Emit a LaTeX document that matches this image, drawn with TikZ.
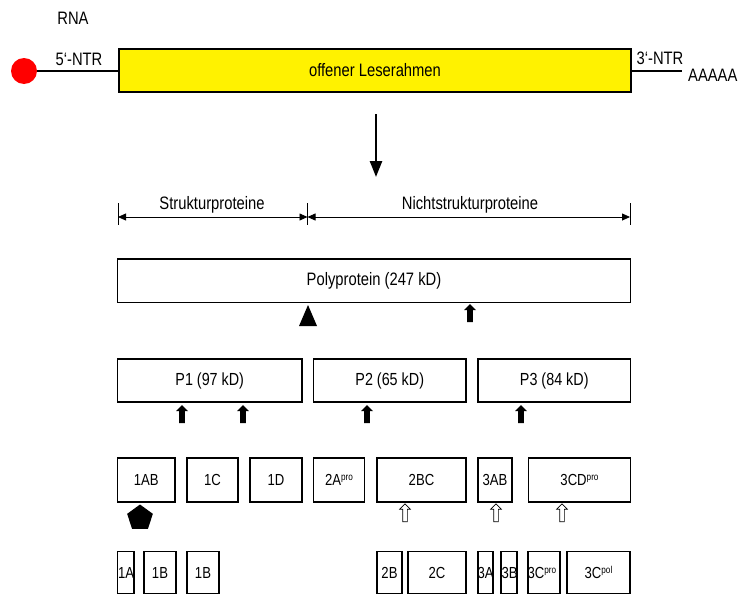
\documentclass[tikz,border=0pt]{standalone}
\usepackage{fontspec}
\setmainfont{Liberation Sans}[FakeStretch=0.82]
\usetikzlibrary{shapes.geometric,shapes.arrows,arrows.meta}
\tikzset{
  lab/.style={font=\fontsize{18}{20}\selectfont, inner sep=0pt},
  plab/.style={font=\fontsize{17.5}{20}\selectfont, inner sep=0pt},
  slab/.style={font=\fontsize{16}{18}\selectfont, inner sep=0pt},
  box/.style={draw, line width=1.3pt, inner sep=0pt, fill=white},
  fillarrow/.style={single arrow, fill=black, shape border rotate=90, inner sep=2.6pt,
    single arrow head extend=3.2pt, single arrow head indent=0pt, minimum height=18pt},
  openarrow/.style={single arrow, draw=black, fill=white, line width=0.7pt, shape border rotate=90, inner sep=2pt,
    single arrow head extend=3pt, single arrow head indent=0pt, minimum height=18pt},
  dimline/.style={line width=0.8pt, {Triangle[length=8pt,width=7pt]}-{Triangle[length=8pt,width=7pt]}},
}
\newcommand{\supx}[1]{\raisebox{5pt}{\fontsize{10}{10}\selectfont #1}}
\begin{document}
\begin{tikzpicture}[x=1pt,y=-1pt]
\useasboundingbox (0,0) rectangle (743,594);
% RNA
\node[lab] (rna) at (73,18) {RNA};
\node[circle, fill=red, minimum size=26pt, inner sep=0pt] (cap) at (24,71) {};
\node[draw, line width=1.3pt, fill=yellow, minimum width=512pt, minimum height=43pt, inner sep=0pt, lab] (orf) at (375,70.5) {offener Leserahmen};
\draw[line width=2.5pt] (cap.east) -- (cap.east -| orf.west);
\node[lab] (n5) at (79,59) {5‘-NTR};
\coordinate (tailend) at (682,71);
\draw[line width=2pt] (orf.east |- tailend) -- (tailend);
\node[lab] (n3) at (660,58) {3‘-NTR};
\node[lab, anchor=west] (polya) at (688,75) {AAAAA};
% processing arrow
\coordinate (dtop) at (376,114);
\coordinate (dbot) at (376,177);
\draw[line width=2.5pt, -{Triangle[length=16pt,width=12pt]}] (dtop) -- (dbot);
% dimension line
\coordinate (dl) at (118,217);
\coordinate (dm) at (307.5,217);
\coordinate (dr) at (630,217);
\draw[line width=0.6pt] (dl) ++(0,-14) -- ++(0,22);
\draw[line width=0.6pt] (dm) ++(0,-14) -- ++(0,22);
\draw[line width=0.6pt] (dr) ++(0,-14) -- ++(0,22);
\draw[dimline] (dl) -- (dm);
\draw[dimline] (dm) -- (dr);
\node[lab] (struk) at (212,205) {Strukturproteine};
\node[lab] (nstruk) at (470,205) {Nichtstrukturproteine};
% polyprotein
\node[box, lab, minimum width=513pt, minimum height=43.5pt] (poly) at (374,280.7) {Polyprotein (247 kD)};
\fill (299,326) -- (317,326) -- (308,305) -- cycle;
\node[fillarrow] (ap) at (470,314.5) {};
% P1 P2 P3
\node[box, plab, minimum width=184.5pt, minimum height=43pt] (p1) at (209.75,380.5) {P1 (97 kD)};
\node[box, plab, minimum width=152.5pt, minimum height=43pt] (p2) at (389.75,380.5) {P2 (65 kD)};
\node[box, plab, minimum width=152.5pt, minimum height=43pt] (p3) at (554.25,380.5) {P3 (84 kD)};
\node[fillarrow] (a1) at (182,415.5) {};
\node[fillarrow] (a2) at (243,415.5) {};
\node[fillarrow] (a3) at (367,415.5) {};
\node[fillarrow] (a4) at (521,415.5) {};
% row 3
\node[box, slab, minimum width=57.5pt, minimum height=44pt] (b1ab) at (146.25,480) {1AB};
\node[box, slab, minimum width=51pt, minimum height=44pt] (b1c) at (212.5,480) {1C};
\node[box, slab, minimum width=52pt, minimum height=44pt] (b1d) at (276,480) {1D};
\node[box, slab, minimum width=51pt, minimum height=44pt] (b2a) at (339,480) {2A\supx{pro}};
\node[box, slab, minimum width=89pt, minimum height=44pt] (b2bc) at (421.5,480) {2BC};
\node[box, slab, minimum width=34pt, minimum height=44pt] (b3ab) at (495,480) {3AB};
\node[box, slab, minimum width=102pt, minimum height=44pt] (b3cd) at (579.5,480) {3CD\supx{pro}};
\node[regular polygon, regular polygon sides=5, fill=black, minimum size=27pt, inner sep=0pt] (pent) at (140,518) {};
\node[openarrow] (o1) at (405,514) {};
\node[openarrow] (o2) at (496,514) {};
\node[openarrow] (o3) at (562,514) {};
% row 4
\node[box, minimum width=16.5pt, minimum height=42pt] (b1a) at (125.75,572.5) {};
\node[slab, anchor=west] (t1a) at ([xshift=1pt]b1a.west) {1A};
\node[box, slab, minimum width=32pt, minimum height=42pt] (b1b) at (160,572.5) {1B};
\node[box, slab, minimum width=32pt, minimum height=42pt] (b1bb) at (203,572.5) {1B};
\node[box, slab, minimum width=25pt, minimum height=42pt] (b2b) at (389.5,572.5) {2B};
\node[box, slab, minimum width=58pt, minimum height=42pt] (b2c) at (437,572.5) {2C};
\node[box, minimum width=15pt, minimum height=42pt] (b3a) at (485.5,572.5) {};
\node[slab, anchor=west] (t3a) at (b3a.west) {3A};
\node[box, minimum width=16pt, minimum height=42pt] (b3b) at (509,572.5) {};
\node[slab, anchor=west] (t3b) at ([xshift=1pt]b3b.west) {3B};
\node[box, minimum width=32pt, minimum height=42pt] (b3cp) at (544,572.5) {};
\node[slab, anchor=west] (t3cp) at (b3cp.west) {3C\supx{pro}};
\node[box, slab, minimum width=63pt, minimum height=42pt] (b3cpol) at (598.5,572.5) {3C\supx{pol}};
\end{tikzpicture}
\end{document}
